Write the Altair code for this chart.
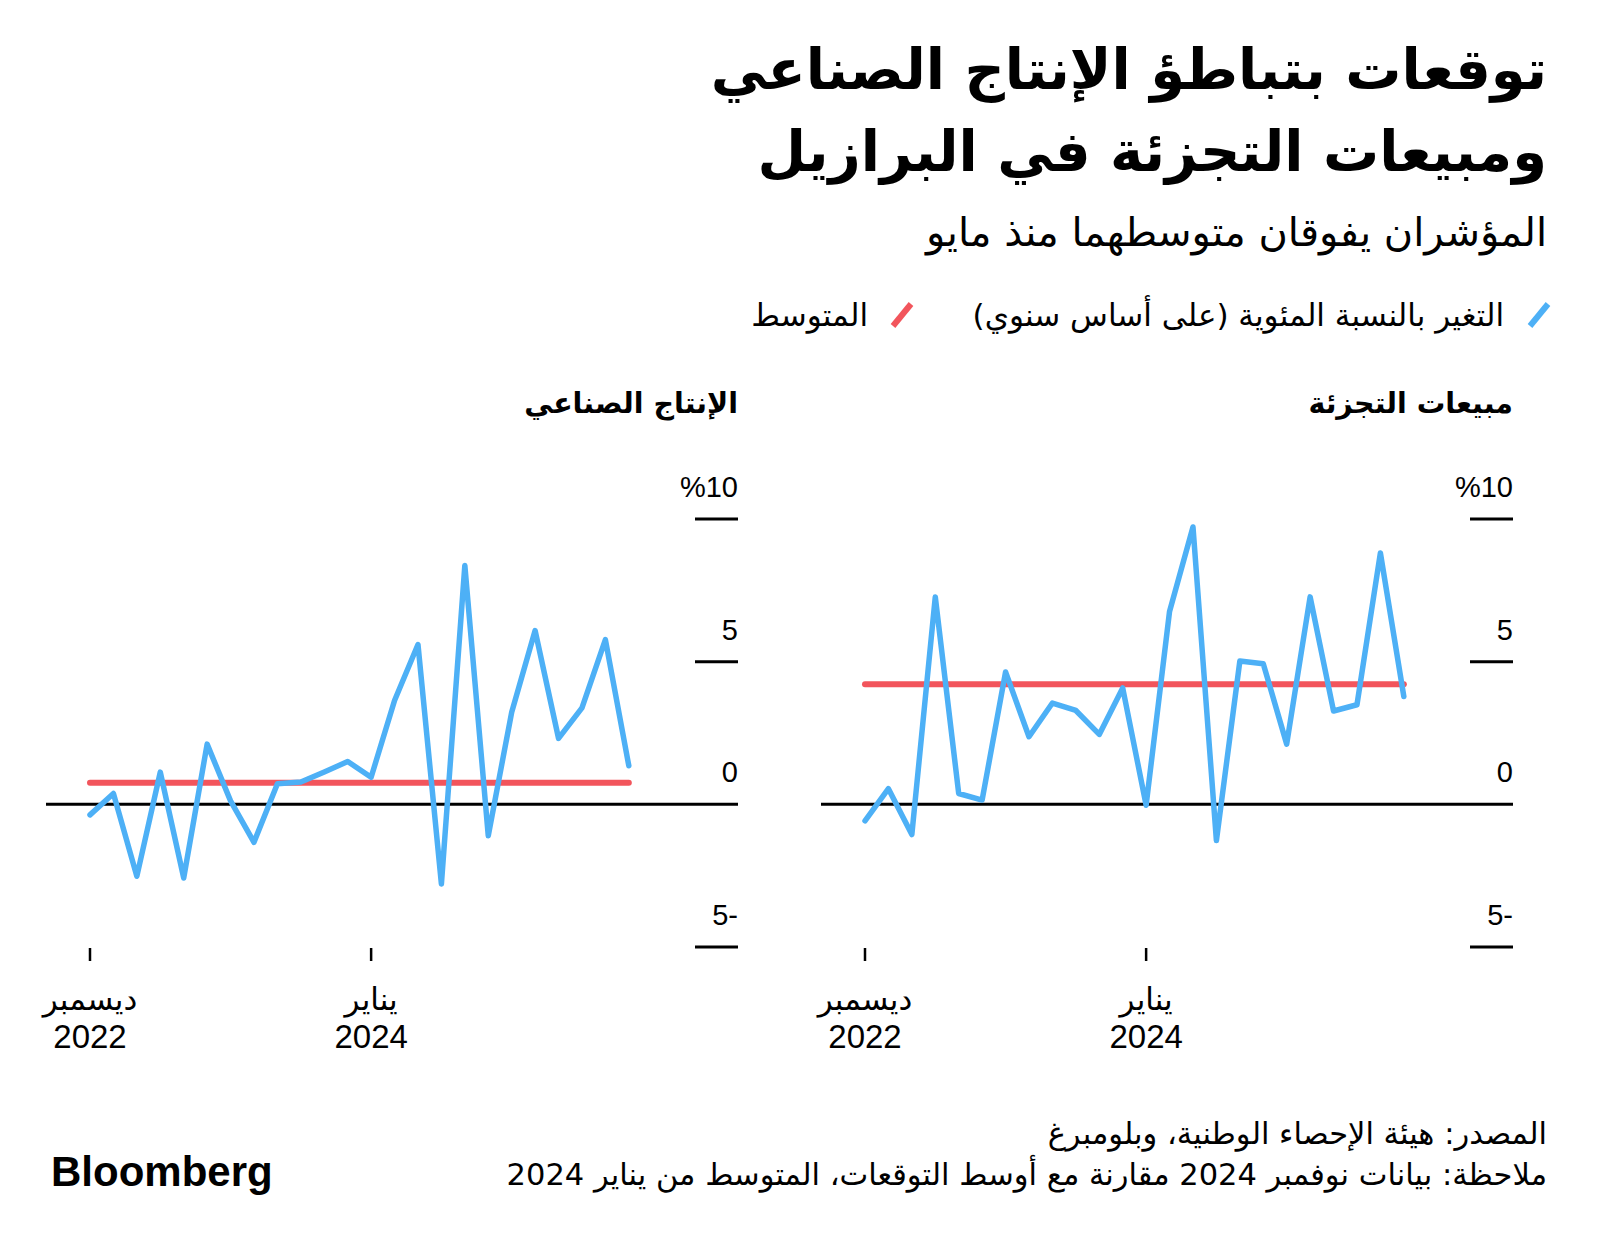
import altair as alt
import pandas as pd

# ---------------- data ----------------
month_index = list(range(24))  # Dec 2022 ... Nov 2024
ip_values = [-0.37, 0.38, -2.52, 1.13, -2.58, 2.11, 0.12, -1.33, 0.72, 0.78, 1.13, 1.50,
             0.95, 3.64, 5.60, -2.79, 8.37, -1.10, 3.23, 6.09, 2.31, 3.38, 5.77, 1.35]
retail_values = [-0.58, 0.55, -1.06, 7.27, 0.38, 0.15, 4.64, 2.37, 3.55, 3.29, 2.45, 4.08,
                 -0.03, 6.76, 9.72, -1.27, 5.02, 4.93, 2.11, 7.27, 3.27, 3.49, 8.81, 3.78]
ip_average = 0.76
retail_average = 4.21

y_tick_values = [10, 5, -5]
y_label_values = [10, 5, 0, -5]
y_label_texts = ["%10", "5", "0", "5-"]
x_tick_index = [0, 12]
x_tick_months = ["ديسمبر", "يناير"]
x_tick_years = ["2022", "2024"]

title_lines = ["توقعات بتباطؤ الإنتاج الصناعي", "ومبيعات التجزئة في البرازيل"]
subtitle = "المؤشران يفوقان متوسطهما منذ مايو"
legend_labels = ["التغير بالنسبة المئوية (على أساس سنوي)", "المتوسط"]
panel_titles = ["الإنتاج الصناعي", "مبيعات التجزئة"]
source_text = "المصدر: هيئة الإحصاء الوطنية، وبلومبرغ"
note_text = "ملاحظة: بيانات نوفمبر 2024 مقارنة مع أوسط التوقعات، المتوسط من يناير 2024"
brand = "Bloomberg"

# ---------------- style ----------------
BLUE = "#4DB0F6"
RED = "#F2555C"
AR = "DejaVu Sans"
NUM = "Liberation Sans"
RLM = "\u200f"
W, H = 692, 428
X_DOM = [-1.878, 27.66]


def txt(text, x, y, size, align="right", weight="normal", font=AR):
    return alt.Chart(alt.Data(values=[{}])).mark_text(
        text=text, align=align, baseline="alphabetic", font=font, fontSize=size, fontWeight=weight,
        color="black").encode(x=alt.value(x), y=alt.value(y))


def slash(x1, y1, color):
    return alt.Chart(alt.Data(values=[{}])).mark_rule(color=color, strokeWidth=6).encode(
        x=alt.value(x1), x2=alt.value(x1 + 18), y=alt.value(y1), y2=alt.value(y1 - 22))


def panel(values, avg, title, extra):
    xs = alt.Scale(domain=X_DOM, nice=False, zero=False)
    ys = alt.Scale(domain=[-5, 10], nice=False, zero=False)
    df = pd.DataFrame({"i": month_index, "v": values})

    zero = alt.Chart(pd.DataFrame({"v": [0]})).mark_rule(color="black", strokeWidth=3).encode(
        y=alt.Y("v:Q", scale=ys, axis=None), x=alt.value(0), x2=alt.value(W))
    ticks = alt.Chart(pd.DataFrame({"v": y_tick_values})).mark_rule(color="black", strokeWidth=3).encode(
        y=alt.Y("v:Q", scale=ys, axis=None), x=alt.value(W - 43), x2=alt.value(W))
    ylab = alt.Chart(pd.DataFrame({"v": y_label_values, "t": y_label_texts})).mark_text(
        align="right", baseline="alphabetic", dy=-22, font=NUM, fontSize=29, color="black").encode(
        y=alt.Y("v:Q", scale=ys, axis=None), x=alt.value(W), text="t:N")
    avg_line = alt.Chart(pd.DataFrame({"a": [month_index[0]], "b": [month_index[-1]], "v": [avg]})).mark_rule(
        color=RED, strokeWidth=6, strokeCap="round").encode(
        x=alt.X("a:Q", scale=xs, axis=None), x2="b:Q", y=alt.Y("v:Q", scale=ys, axis=None))
    line = alt.Chart(df).mark_line(color=BLUE, strokeWidth=5.5, strokeCap="round", strokeJoin="round").encode(
        x=alt.X("i:Q", scale=xs, axis=None), y=alt.Y("v:Q", scale=ys, axis=None))
    tdf = pd.DataFrame({"i": x_tick_index, "m": x_tick_months, "yr": x_tick_years})
    xt = alt.Chart(tdf).mark_rule(color="black", strokeWidth=2.5).encode(
        x=alt.X("i:Q", scale=xs, axis=None), y=alt.value(H + 1), y2=alt.value(H + 14))
    xm = alt.Chart(tdf).mark_text(align="center", baseline="alphabetic", font=AR, fontSize=31, color="black").encode(
        x=alt.X("i:Q", scale=xs, axis=None), y=alt.value(H + 63), text="m:N")
    xy = alt.Chart(tdf).mark_text(align="center", baseline="alphabetic", font=NUM, fontSize=33, color="black").encode(
        x=alt.X("i:Q", scale=xs, axis=None), y=alt.value(H + 101), text="yr:N")
    ttl = txt(title + RLM, W, -106, 28.5, weight="bold")
    return alt.layer(zero, ticks, ylab, avg_line, line, xt, xm, xy, ttl, *extra).properties(width=W, height=H)


# anchor (invisible) fixing the top-left corner of the whole graphic
anchor = alt.Chart(alt.Data(values=[{}])).mark_rule(opacity=0, strokeWidth=1).encode(
    x=alt.value(-38), x2=alt.value(-37), y=alt.value(-511), y2=alt.value(-510))

left_extra = [
    anchor,
    txt(brand, 5, 667, 42, align="left", weight="bold", font=NUM),
]

RX = 726  # right edge of header/footer text, relative to right panel
right_extra = [
    txt(title_lines[0] + RLM, RX, -430, 56, weight="bold"),
    txt(title_lines[1] + RLM, RX, -348, 56, weight="bold"),
    txt(subtitle + RLM, RX, -273, 40),
    slash(709, -193, BLUE),
    txt(legend_labels[0] + RLM, 683, -193, 31),
    slash(72, -193, RED),
    txt(legend_labels[1] + RLM, 47, -193, 31),
    txt(source_text + RLM, RX, 625, 30.5),
    txt(note_text + RLM, RX, 666, 30.5),
]

chart = alt.hconcat(
    panel(ip_values, ip_average, panel_titles[0], left_extra),
    panel(retail_values, retail_average, panel_titles[1], right_extra),
    spacing=83, bounds="flush",
).properties(
    padding={"left": 0, "top": 0, "right": 0, "bottom": 10},
    background="white",
).configure_view(stroke=None)

chart.save("out.html", embed_options={"renderer": "svg", "actions": False})
